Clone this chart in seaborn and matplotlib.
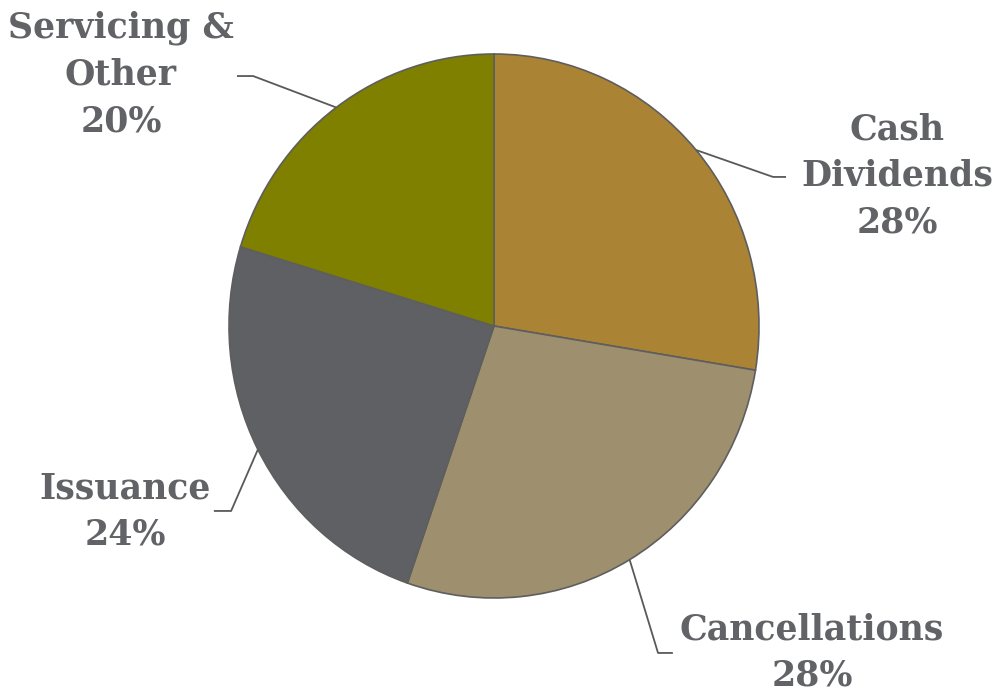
import numpy as np
import matplotlib
matplotlib.use("Agg")
import matplotlib.pyplot as plt
import seaborn as sns

categories = ["Cash\nDividends", "Cancellations", "Issuance", "Servicing &\nOther"]
values = [27.6, 27.7, 24.4, 20.3]
colors = ["#AA8335", "#9E8F6E", "#5F6064", "#7F7F00"]

sns.set_theme(style="white")
plt.rcParams["font.family"] = ["DejaVu Serif"]

fig = plt.figure(figsize=(9.96, 6.94), dpi=100)
ax = fig.add_axes([229/996, 1 - 598/694, 530/996, 544/694])

wedges, _ = ax.pie(values, colors=colors, startangle=90, counterclock=False,
                   radius=1.0, wedgeprops=dict(edgecolor="#5E5E5E", linewidth=1.2))
ax.set_aspect("auto")
ax.set_xlim(-1, 1)
ax.set_ylim(-1, 1)

text_color = "#626367"
# elbow, horizontal end, label anchor (axes data coords)
layout = [
    ((1.053, 0.548), (1.102, 0.548), (1.521, 0.552)),
    ((0.619, -1.202), (0.675, -1.202), (1.200, -1.200)),
    ((-0.992, -0.680), (-1.057, -0.680), (-1.392, -0.683)),
    ((-0.909, 0.919), (-0.970, 0.919), (-1.408, 0.925)),
]
total = sum(values)
for w, cat, v, (elb, end, lab) in zip(wedges, categories, values, layout):
    ang = np.deg2rad((w.theta1 + w.theta2) / 2)
    x0, y0 = np.cos(ang), np.sin(ang)
    ax.plot([x0, elb[0], end[0]], [y0, elb[1], end[1]], color="#595959",
            lw=1.3, clip_on=False, solid_capstyle="butt")
    pct = round(v / total * 100)
    ax.text(lab[0], lab[1], f"{cat}\n{pct}%", ha="center", va="center",
            fontsize=25, fontweight="bold", color=text_color,
            linespacing=1.46, clip_on=False)

fig.savefig("out.png", dpi=100)
